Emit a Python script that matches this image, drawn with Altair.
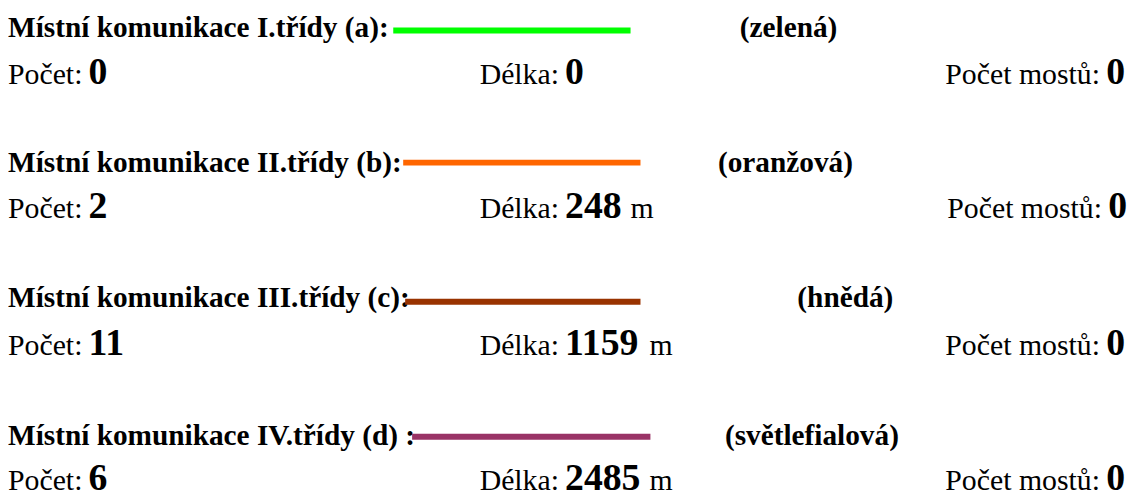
import altair as alt
import pandas as pd

# ---- content ----
titles = [
    "Místní komunikace I.třídy (a):",
    "Místní komunikace II.třídy (b):",
    "Místní komunikace III.třídy (c):",
    "Místní komunikace IV.třídy (d) :",
]
color_names = ["(zelená)", "(oranžová)", "(hnědá)", "(světlefialová)"]
counts = [0, 2, 11, 6]
lengths = [0, 248, 1159, 2485]
length_units = ["", "m", "m", "m"]
bridges = [0, 0, 0, 0]
label_count = "Počet:"
label_length = "Délka:"
label_bridges = "Počet mostů:"

# ---- styles ----
line_colors = ["#00ff00", "#ff6600", "#993300", "#993366"]
FONT = "Liberation Serif"
TITLE_SIZE = 29.5
REG_SIZE = 30
NUM_SIZE = 38

# ---- layout (pixel positions of the page) ----
title_base = [35, 171, 307, 446]
info_base = [83, 218, 356, 492]
line_y = [29, 162, 302, 438]
line_x0 = [396, 406, 408, 415]
line_x1 = [635, 645, 645, 655]
cname_x = [745, 723, 803, 730]
count_lx, count_vx = 8, 89
len_lx, len_vx = 483, 569
br_lx = [952, 954, 952, 952]
br_gap = 162
digit_w = 19

reg_rows, bold_rows, lines = [], [], []
for i in range(4):
    bold_rows.append(dict(x=8, y=title_base[i], t=titles[i], s=TITLE_SIZE))
    bold_rows.append(dict(x=cname_x[i], y=title_base[i], t=color_names[i], s=TITLE_SIZE))
    reg_rows.append(dict(x=count_lx, y=info_base[i], t=label_count, s=REG_SIZE))
    bold_rows.append(dict(x=count_vx, y=info_base[i], t=str(counts[i]), s=NUM_SIZE))
    reg_rows.append(dict(x=len_lx, y=info_base[i], t=label_length, s=REG_SIZE))
    bold_rows.append(dict(x=len_vx, y=info_base[i], t=str(lengths[i]), s=NUM_SIZE))
    if length_units[i]:
        reg_rows.append(dict(x=len_vx + digit_w * len(str(lengths[i])) + 9,
                             y=info_base[i], t=length_units[i], s=REG_SIZE))
    reg_rows.append(dict(x=br_lx[i], y=info_base[i], t=label_bridges, s=REG_SIZE))
    bold_rows.append(dict(x=br_lx[i] + br_gap, y=info_base[i], t=str(bridges[i]), s=NUM_SIZE))
    lines.append(dict(x=line_x0[i], x2=line_x1[i], y=line_y[i], c=line_colors[i]))

W, H = 1128, 489
xs = alt.Scale(domain=[8, 8 + W], nice=False, zero=False)
ys = alt.Scale(domain=[8, 8 + H], nice=False, zero=False, reverse=True)

def text_layer(rows, weight):
    return alt.Chart(pd.DataFrame(rows)).mark_text(
        align="left", baseline="alphabetic", font=FONT, fontWeight=weight, color="black"
    ).encode(
        x=alt.X("x:Q", scale=xs, axis=None),
        y=alt.Y("y:Q", scale=ys, axis=None),
        text="t:N",
        size=alt.Size("s:Q", scale=None, legend=None),
    )

rules = alt.Chart(pd.DataFrame(lines)).mark_rule(strokeWidth=6).encode(
    x=alt.X("x:Q", scale=xs, axis=None),
    x2="x2:Q",
    y=alt.Y("y:Q", scale=ys, axis=None),
    color=alt.Color("c:N", scale=None, legend=None),
)

chart = alt.layer(text_layer(reg_rows, "normal"), text_layer(bold_rows, "bold"), rules).properties(
    width=W, height=H, padding=0, autosize="none", background="white"
).configure_view(stroke=None)

chart.save("out.html", embed_options={"renderer": "svg", "actions": False})
